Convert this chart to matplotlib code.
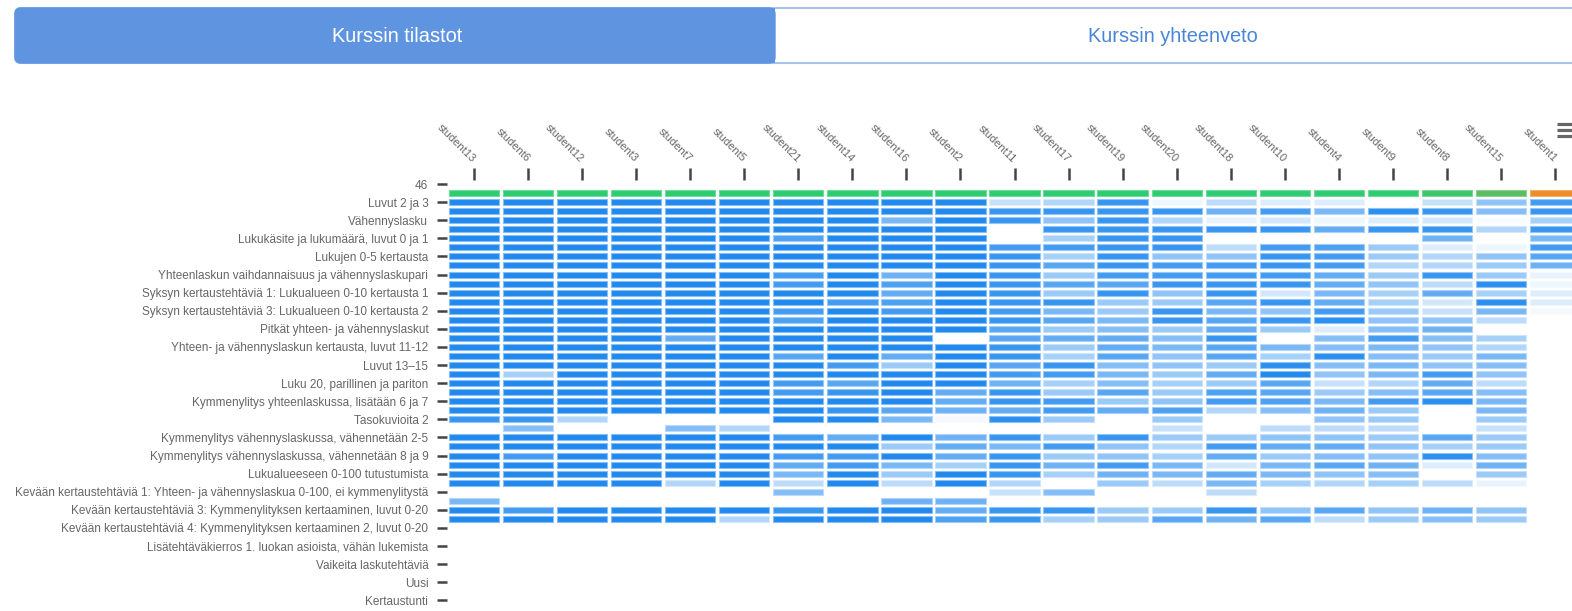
import numpy as np
import matplotlib.pyplot as plt
from matplotlib.colors import LinearSegmentedColormap
from matplotlib.patches import FancyBboxPatch, Rectangle

plt.rcParams["font.family"] = ["Liberation Sans", "DejaVu Sans"]

# Columns of the heatmap (students, in the order the chart sorts them)
students = [
    "student13", "student6", "student12", "student3", "student7", "student5",
    "student21", "student14", "student16", "student2", "student11", "student17",
    "student19", "student20", "student18", "student10", "student4", "student9",
    "student8", "student15", "student1",
]

# Only every second category gets a visible label on the y axis
row_labels = [
    "46",
    "Luvut 2 ja 3",
    "Vähennyslasku",
    "Lukukäsite ja lukumäärä, luvut 0 ja 1",
    "Lukujen 0-5 kertausta",
    "Yhteenlaskun vaihdannaisuus ja vähennyslaskupari",
    "Syksyn kertaustehtäviä 1: Lukualueen 0-10 kertausta 1",
    "Syksyn kertaustehtäviä 3: Lukualueen 0-10 kertausta 2",
    "Pitkät yhteen- ja vähennyslaskut",
    "Yhteen- ja vähennyslaskun kertausta, luvut 11-12",
    "Luvut 13–15",
    "Luku 20, parillinen ja pariton",
    "Kymmenylitys yhteenlaskussa, lisätään 6 ja 7",
    "Tasokuvioita 2",
    "Kymmenylitys vähennyslaskussa, vähennetään 2-5",
    "Kymmenylitys vähennyslaskussa, vähennetään 8 ja 9",
    "Lukualueeseen 0-100 tutustumista",
    "Kevään kertaustehtäviä 1: Yhteen- ja vähennyslaskua 0-100, ei kymmenylitystä",
    "Kevään kertaustehtäviä 3: Kymmenylityksen kertaaminen, luvut 0-20",
    "Kevään kertaustehtäviä 4: Kymmenylityksen kertaaminen 2, luvut 0-20",
    "Lisätehtäväkierros 1. luokan asioista, vähän lukemista",
    "Vaikeita laskutehtäviä",
    "Uusi",
    "Kertaustunti",
]
n_rows = 47

# Overall progress row (green -> orange), category index 1
progress = [100] * 18 + [95, 88, 50]

# Exercise scores (%), one list per category starting at index 2; None = no cell
N = None
scores = [
    [100] * 10 + [25, 35, 90, 8, 30, 15, 15, N, 25, 50, 85],
    [100] * 10 + [90, 90, 90, 90, 65, 85, 60, 95, 90, 55, 90],
    [100] * 8 + [60, 100] + [90, 50, 90, 35, 10, 20, 8, 15, 20, 3, 40],
    [100] * 10 + [N, 90, 90, 90, 90, 90, 70, 90, 90, 35, 90],
    [100] * 6 + [80, 100, 100, 100] + [N, 40, 90, 90, N, N, N, N, 65, N, 60],
    [100] * 10 + [85, 85, 90, 90, 30, 85, 80, 45, 15, 8, 85],
    [100] * 10 + [90, 40, 90, 50, 50, 90, 85, 45, 35, 50, 75],
    [100] * 10 + [90, 75, 90, 85, 85, 90, 85, 35, 35, 45, 65],
    [100] * 6 + [85, 100, 65, 100] + [90, 45, 85, 85, 85, 85, 70, 45, 90, 45, 10],
    [100] * 6 + [85, 100, 80, 100] + [90, 75, 75, 90, 90, 90, 70, 50, 30, 95, 8],
    [100] * 8 + [70, 100] + [90, 45, 90, 50, 90, 20, 60, 40, 70, 40, 15],
    [100] * 7 + [85, 80, 100] + [90, 90, 45, 45, 75, 90, 70, 40, 20, 95, 15],
    [100] * 6 + [85, 100, 85, 100] + [85, 60, 45, 90, 60, 50, 85, 45, 25, 60, 5],
    [100] * 6 + [80, 100, 100, 100] + [90, 75, 60, 90, 75, 90, 95, 50, 50, 30, N],
    [100] * 10 + [75, 45, 55, 45, 70, 45, 15, 55, 65, N, N],
    [100, 100, 100, 100, 70, 100, 100, 100, 100, N] + [75, 70, 70, 55, 90, N, 55, 85, 55, 40, N],
    [100] * 10 + [90, 45, 70, 60, 75, 60, 55, 60, 50, 35, N],
    [100] * 6 + [75, 100, 70, 100] + [90, 40, 75, 50, 75, 40, 95, 55, 45, 60, N],
    [100] * 7 + [85, 45, 100] + [75, 90, 55, 50, 45, 95, 55, 60, 50, 55, N],
    [100, 40] + [100] * 8 + [85, 85, 60, 45, 70, 100, 50, 60, 85, 50, N],
    [100] * 6 + [85, 75, 100, 100] + [65, 40, 55, 40, 45, 75, 25, 35, 70, 30, N],
    [100] * 6 + [85, 90, 100, 70] + [90, 45, 75, 45, 80, 75, 45, 55, 75, 55, N],
    [100] * 9 + [70] + [90, 85, 45, 50, 85, 80, 60, 85, 95, 60, N],
    [100] * 7 + [90, 75, 65] + [70, 85, 70, 80, 35, 55, 65, 45, N, 60, N],
    [90, 90, 35, N, N, N, 100, 100, 60, 5] + [95, 45, N, 45, N, N, 50, 45, N, 45, N],
    [N, 55, N, N, 55, 35, N, N, N, N] + [N, N, N, 25, N, 30, 30, 30, N, 25, N],
    [100] * 6 + [85, 70, 100, 65] + [90, 45, 90, 45, 45, 50, 50, 45, 75, 45, N],
    [100] * 8 + [45, 70] + [60, 85, 50, 35, 85, 70, 70, 50, 40, 45, N],
    [100, 85, 100, 100, 100, 100, 85, 85, 100, 70] + [90, 45, 50, 40, 70, 45, 55, 50, 95, 55, N],
    [100] * 6 + [70, 85, 60, 40] + [90, 65, 85, 60, 20, 60, 75, 65, 15, 65, N],
    [100] * 6 + [60, 100, 45, 100] + [90, 40, 65, 60, 70, 60, 50, 55, N, 45, N],
    [100, 100, 100, 100, 35, 100, 30, 100, 30, 100] + [35, N, 45, 30, 60, 40, 35, 40, 30, 10, N],
    [N] * 6 + [55, N, N, N] + [25, 55, N, N, 30, N, N, N, N, N, N],
    [60] + [N] * 7 + [65, 65] + [N] * 11,
    [100, 85, 100, 100, 100, 100, 90, 100, 100, 70] + [90, 90, 45, 45, 90, 50, 75, 50, 65, 50, N],
    [100, 100, 100, 100, 100, 35, 100, 100, 100, 80] + [90, 40, 45, 75, 65, 75, 30, 45, 55, 45, N],
]

blue_cmap = LinearSegmentedColormap.from_list("score", ["#ffffff", "#2189ee"])
prog_cmap = LinearSegmentedColormap.from_list(
    "progress", [(0, "#e74c3c"), (0.5, "#ef8d2b"), (1, "#2ecc71")]
)


def soften(colors, amount=0.45):
    """Lighter version of the cell colour, used for the cell outline"""
    colors = np.asarray(colors)[:, :3]
    return colors + (1 - colors) * amount


W, H = 1572, 611
fig = plt.figure(figsize=(W / 100, H / 100), dpi=100)

# Tab header drawn in pixel coordinates
bg = fig.add_axes([0, 0, 1, 1])
bg.set_xlim(0, W)
bg.set_ylim(H, 0)
bg.axis("off")

bg.add_patch(FancyBboxPatch((15, 8), 1600, 55, boxstyle="round,pad=0,rounding_size=6",
                            facecolor="white", edgecolor="#a9c4ec", linewidth=1.5))
bg.add_patch(FancyBboxPatch((15, 8), 760, 55, boxstyle="round,pad=0,rounding_size=6",
                            facecolor="#5f95e0", edgecolor="#5f95e0", linewidth=1))
bg.add_patch(Rectangle((700, 8), 75, 55, facecolor="#5f95e0", edgecolor="none"))
bg.text(397, 36, "Kurssin tilastot", color="white", fontsize=14.4, ha="center", va="center")
bg.text(1173, 36, "Kurssin yhteenveto", color="#4a86d6", fontsize=14.4, ha="center", va="center")

# hamburger menu icon
for yy in (124, 130, 136):
    bg.plot([1557, 1576], [yy, yy], color="#666666", linewidth=2.3, solid_capstyle="butt")

# Heatmap axes: 54.05 px per column, 9.05 px per row
col_w, row_h = 54.05, 9.05
top_px, left_px = 179.5, 447
ax = fig.add_axes([left_px / W, (H - top_px - n_rows * row_h) / H,
                   len(students) * col_w / W, n_rows * row_h / H])
ax.set_xlim(-0.5, len(students) - 0.5)
ax.set_ylim(n_rows - 0.5, -0.5)

cell_w, cell_h = 0.93, 0.66
x_all = np.arange(len(students))

pc = prog_cmap(np.array(progress) / 100)
ax.bar(x_all, cell_h, bottom=1 - cell_h / 2, width=cell_w, color=pc,
       edgecolor=soften(pc, 0.3), linewidth=0.8)

for i, row in enumerate(scores):
    r = i + 2
    xs = [j for j, v in enumerate(row) if v is not None]
    vals = np.array([row[j] for j in xs], dtype=float)
    if len(xs) == 0:
        continue
    colors = blue_cmap(vals / 100)
    ax.bar(xs, cell_h, bottom=r - cell_h / 2, width=cell_w, color=colors,
           edgecolor=soften(colors), linewidth=0.8)

for s in ax.spines.values():
    s.set_visible(False)

ax.xaxis.tick_top()
ax.set_xticks(x_all)
ax.set_xticklabels(students, rotation=-45, ha="right", va="center",
                   rotation_mode="anchor", fontsize=8, color="#666666")
ax.tick_params(axis="x", length=8.6, width=1.8, color="#444444", pad=5,
               top=True, bottom=False)

ax.set_yticks(np.arange(0, n_rows, 2))
ax.set_yticklabels(row_labels, fontsize=8.5, color="#666666")
ax.tick_params(axis="y", length=7.5, width=1.8, color="#444444", pad=6)

fig.savefig("out.png", dpi=100)
